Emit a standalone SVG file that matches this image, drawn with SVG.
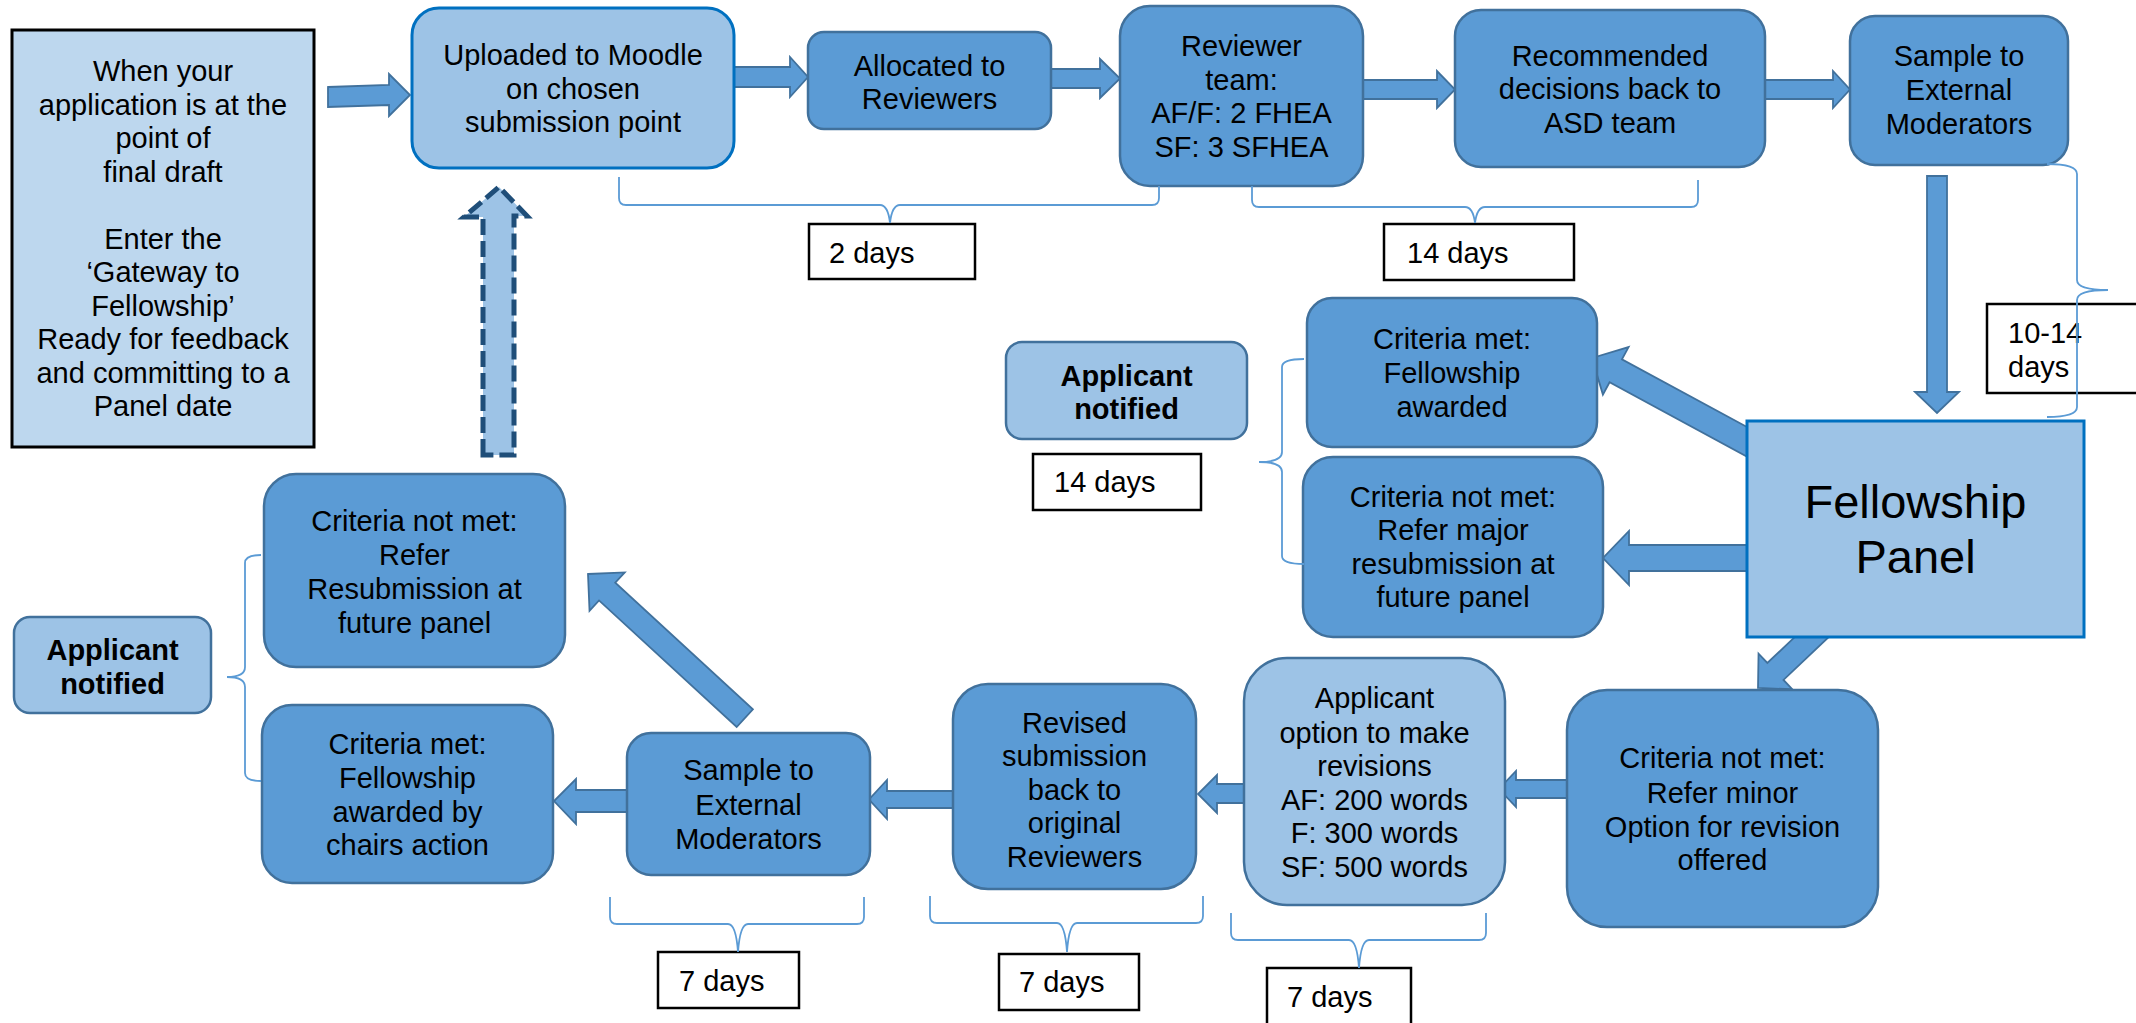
<svg xmlns="http://www.w3.org/2000/svg" width="2136" height="1023" viewBox="0 0 2136 1023">
<style>
text{font-family:"Liberation Sans",Arial,sans-serif;font-size:29px;fill:#000}
.c{text-anchor:middle}
.bd{font-weight:bold}
.big{font-size:47px}
.n{fill:#5B9BD5;stroke:#41719C;stroke-width:2.5}
.l{fill:#9DC3E6;stroke:#41719C;stroke-width:2.5}
.lb{fill:#9DC3E6;stroke:#0070C0;stroke-width:3}
.g{fill:#BDD7EE;stroke:#000;stroke-width:3}
.d{fill:#fff;stroke:#000;stroke-width:2.5}
.a{fill:#5B9BD5;stroke:#41719C;stroke-width:1.8;stroke-linejoin:miter}
.da{fill:#9DC3E6;stroke:#1F4E79;stroke-width:5;stroke-dasharray:16 6}
.b{fill:none;stroke:#5B9BD5;stroke-width:1.8}
</style>
<rect width="2136" height="1023" fill="#fff"/>
<g id="connectors">
<polygon class="a" points="328,87 389,85 389,74 410,95 389,116 389,105 328,107"/>
<polygon class="a" points="734,67 790,67 790,57 808,77 790,97 790,87 734,87"/>
<polygon class="a" points="1051,69 1100,69 1100,59 1120,78.5 1100,98 1100,88 1051,88"/>
<polygon class="a" points="1363,80 1437,80 1437,71 1455,89.5 1437,108 1437,99 1363,99"/>
<polygon class="a" points="1765,80 1833,80 1833,71 1850,89.5 1833,108 1833,99 1765,99"/>
<polygon class="a" points="1927,176 1947,176 1947,392 1959,392 1937,413 1915,392 1927,392"/>
<polygon class="a" transform="translate(1592 358) rotate(28.4)" points="0,0 27,-27 27,-13 195,-13 195,13 27,13 27,27"/>
<polygon class="a" points="1747,545 1629,545 1629,531 1603,558 1629,585 1629,571 1747,571"/>
<polygon class="a" transform="translate(1758 688) rotate(-43.5)" points="0,0 24,-24.5 24,-11.7 92,-11.7 92,11.7 24,11.7 24,24.5"/>
<polygon class="a" points="1567,780 1516,780 1516,771 1499,789 1516,807 1516,798 1567,798"/>
<polygon class="a" points="1244,784 1217,784 1217,775 1198,794 1217,813 1217,803 1244,803"/>
<polygon class="a" points="953,791 887,791 887,780 869,799.5 887,819 887,808 953,808"/>
<polygon class="a" points="627,790 576,790 576,779 554,801 576,824 576,812 627,812"/>
<polygon class="a" transform="translate(588 574) rotate(42.6)" points="0,0 26,-26 26,-12 213,-12 213,12 26,12 26,26"/>
<polygon class="da" points="483,455 483,217 464,217 499,187 527,216 514,216 514,455"/>
</g>
<g id="start">
<rect class="g" x="12" y="30" width="302" height="417"/>
<text class="c"><tspan x="163" y="81">When your</tspan><tspan x="163" y="114.5">application is at the</tspan><tspan x="163" y="148">point of</tspan><tspan x="163" y="181.5">final draft</tspan><tspan x="163" y="248.5">Enter the</tspan><tspan x="163" y="282">‘Gateway to</tspan><tspan x="163" y="315.5">Fellowship’</tspan><tspan x="163" y="349">Ready for feedback</tspan><tspan x="163" y="382.5">and committing to a</tspan><tspan x="163" y="416">Panel date</tspan></text>
</g>
<g id="moodle">
<rect class="lb" x="412" y="8" width="322" height="160" rx="27"/>
<text class="c"><tspan x="573" y="65">Uploaded to Moodle</tspan><tspan x="573" y="98.5">on chosen</tspan><tspan x="573" y="132">submission point</tspan></text>
</g>
<g id="allocated">
<rect class="n" x="808" y="32" width="243" height="97" rx="16"/>
<text class="c"><tspan x="929.5" y="76">Allocated to</tspan><tspan x="929.5" y="109">Reviewers</tspan></text>
</g>
<g id="reviewer-team">
<rect class="n" x="1120" y="6" width="243" height="180" rx="30"/>
<text class="c"><tspan x="1241.5" y="56">Reviewer</tspan><tspan x="1241.5" y="90">team:</tspan><tspan x="1241.5" y="123">AF/F: 2 FHEA</tspan><tspan x="1241.5" y="157">SF: 3 SFHEA</tspan></text>
</g>
<g id="recommended">
<rect class="n" x="1455" y="10" width="310" height="157" rx="26"/>
<text class="c"><tspan x="1610" y="66">Recommended</tspan><tspan x="1610" y="99">decisions back to</tspan><tspan x="1610" y="133">ASD team</tspan></text>
</g>
<g id="sample-top">
<rect class="n" x="1850" y="16" width="218" height="149" rx="25"/>
<text class="c"><tspan x="1959" y="66">Sample to</tspan><tspan x="1959" y="100">External</tspan><tspan x="1959" y="134">Moderators</tspan></text>
</g>
<g id="panel">
<rect class="lb" x="1747" y="421" width="337" height="216"/>
<text class="c big"><tspan x="1915.5" y="518">Fellowship</tspan><tspan x="1915.5" y="573">Panel</tspan></text>
</g>
<g id="met-upper">
<rect class="n" x="1307" y="298" width="290" height="149" rx="25"/>
<text class="c"><tspan x="1452" y="349">Criteria met:</tspan><tspan x="1452" y="383">Fellowship</tspan><tspan x="1452" y="417">awarded</tspan></text>
</g>
<g id="major">
<rect class="n" x="1303" y="457" width="300" height="180" rx="30"/>
<text class="c"><tspan x="1453" y="507">Criteria not met:</tspan><tspan x="1453" y="540">Refer major</tspan><tspan x="1453" y="574">resubmission at</tspan><tspan x="1453" y="607">future panel</tspan></text>
</g>
<g id="notified-upper">
<rect class="l" x="1006" y="342" width="241" height="97" rx="16"/>
<text class="c bd"><tspan x="1126.5" y="386">Applicant</tspan><tspan x="1126.5" y="419">notified</tspan></text>
</g>
<g id="minor">
<rect class="n" x="1567" y="690" width="311" height="237" rx="40"/>
<text class="c"><tspan x="1722.5" y="768">Criteria not met:</tspan><tspan x="1722.5" y="803">Refer minor</tspan><tspan x="1722.5" y="837">Option for revision</tspan><tspan x="1722.5" y="870">offered</tspan></text>
</g>
<g id="option">
<rect class="l" x="1244" y="658" width="261" height="247" rx="43"/>
<text class="c"><tspan x="1374.5" y="708">Applicant</tspan><tspan x="1374.5" y="743">option to make</tspan><tspan x="1374.5" y="776">revisions</tspan><tspan x="1374.5" y="810">AF: 200 words</tspan><tspan x="1374.5" y="843">F: 300 words</tspan><tspan x="1374.5" y="877">SF: 500 words</tspan></text>
</g>
<g id="revised">
<rect class="n" x="953" y="684" width="243" height="205" rx="35"/>
<text class="c"><tspan x="1074.5" y="733">Revised</tspan><tspan x="1074.5" y="766">submission</tspan><tspan x="1074.5" y="800">back to</tspan><tspan x="1074.5" y="833">original</tspan><tspan x="1074.5" y="867">Reviewers</tspan></text>
</g>
<g id="sample-bottom">
<rect class="n" x="627" y="733" width="243" height="142" rx="24"/>
<text class="c"><tspan x="748.5" y="780">Sample to</tspan><tspan x="748.5" y="815">External</tspan><tspan x="748.5" y="849">Moderators</tspan></text>
</g>
<g id="chairs">
<rect class="n" x="262" y="705" width="291" height="178" rx="30"/>
<text class="c"><tspan x="407.5" y="754">Criteria met:</tspan><tspan x="407.5" y="788">Fellowship</tspan><tspan x="407.5" y="822">awarded by</tspan><tspan x="407.5" y="855">chairs action</tspan></text>
</g>
<g id="resubmission">
<rect class="n" x="264" y="474" width="301" height="193" rx="32"/>
<text class="c"><tspan x="414.5" y="531">Criteria not met:</tspan><tspan x="414.5" y="565">Refer</tspan><tspan x="414.5" y="599">Resubmission at</tspan><tspan x="414.5" y="633">future panel</tspan></text>
</g>
<g id="notified-left">
<rect class="l" x="14" y="617" width="197" height="96" rx="16"/>
<text class="c bd"><tspan x="112.5" y="660">Applicant</tspan><tspan x="112.5" y="694">notified</tspan></text>
</g>
<g id="days-2">
<rect class="d" x="809" y="224" width="166" height="55"/>
<text x="829" y="263">2 days</text>
</g>
<g id="days-14-top">
<rect class="d" x="1384" y="224" width="190" height="56"/>
<text x="1407" y="263">14 days</text>
</g>
<g id="days-10-14">
<rect class="d" x="1987" y="304" width="160" height="89"/>
<text><tspan x="2008" y="343">10-14</tspan><tspan x="2008" y="377">days</tspan></text>
</g>
<g id="days-14-upper">
<rect class="d" x="1033" y="454" width="168" height="56"/>
<text x="1054" y="492">14 days</text>
</g>
<g id="days-7-sample">
<rect class="d" x="658" y="952" width="141" height="56"/>
<text x="679" y="991">7 days</text>
</g>
<g id="days-7-revised">
<rect class="d" x="999" y="954" width="140" height="56"/>
<text x="1019" y="992">7 days</text>
</g>
<g id="days-7-option">
<rect class="d" x="1267" y="968" width="144" height="62"/>
<text x="1287" y="1007">7 days</text>
</g>
<g id="braces">
<path class="b" d="M619,177 L619,198 Q619,205 626,205 L880,205 Q888,205 890,223 Q892,205 900,205 L1152,205 Q1159,205 1159,198 L1159,186"/>
<path class="b" d="M1252,186 L1252,200 Q1252,207 1259,207 L1465,207 Q1473,207 1475,223 Q1477,207 1485,207 L1691,207 Q1698,207 1698,200 L1698,180"/>
<path class="b" d="M2047,164 Q2077,164 2077,174 L2077,280 Q2077,290 2108,290 Q2077,290 2077,300 L2077,407 Q2077,417 2047,417"/>
<path class="b" d="M1304,359 Q1282,359 1282,367 L1282,452 Q1282,462 1259,462 Q1282,462 1282,472 L1282,556 Q1282,564 1304,564"/>
<path class="b" d="M261,555 Q245,555 245,563 L245,667 Q245,677 227,677 Q245,677 245,687 L245,773 Q245,781 261,781"/>
<path class="b" d="M610,897 L610,917 Q610,924 617,924 L728,924 Q736,924 738,952 Q740,924 748,924 L857,924 Q864,924 864,917 L864,897"/>
<path class="b" d="M930,896 L930,916 Q930,923 937,923 L1057,923 Q1065,923 1067,952 Q1069,923 1077,923 L1196,923 Q1203,923 1203,916 L1203,896"/>
<path class="b" d="M1231,913 L1231,933 Q1231,940 1238,940 L1349,940 Q1357,940 1359,968 Q1361,940 1369,940 L1479,940 Q1486,940 1486,933 L1486,913"/>
</g>
</svg>
